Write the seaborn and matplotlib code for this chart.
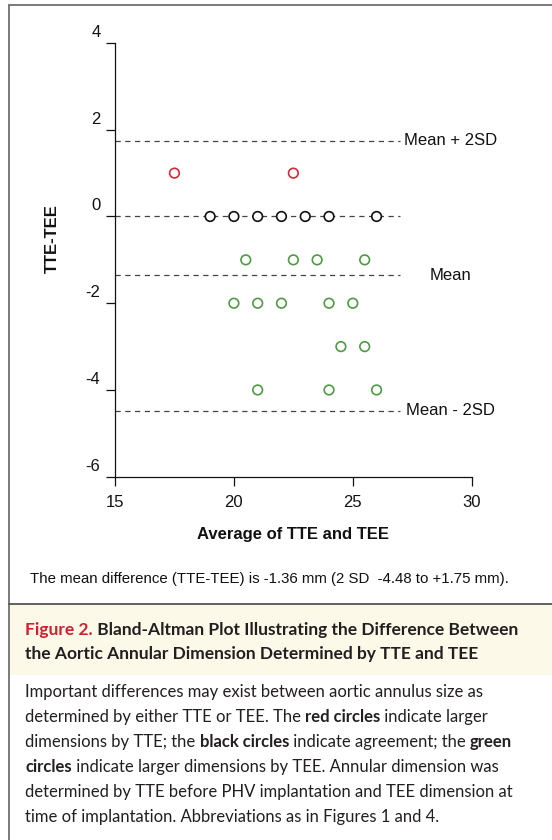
import numpy as np
import pandas as pd
import matplotlib
matplotlib.use("Agg")
import matplotlib.pyplot as plt
import seaborn as sns
from matplotlib.transforms import ScaledTranslation
from matplotlib.patches import Rectangle
from matplotlib.lines import Line2D

# ---------------- data ----------------
red_x = [17.5, 22.5]
red_y = [1, 1]
black_x = [19, 20, 21, 22, 23, 24, 26]
black_y = [0, 0, 0, 0, 0, 0, 0]
green_x = [20.5, 22.5, 23.5, 25.5, 20, 21, 22, 24, 25, 24.5, 25.5, 21, 24, 26]
green_y = [-1, -1, -1, -1, -2, -2, -2, -2, -2, -3, -3, -4, -4, -4]

mean_diff = -1.36
upper_lim = 1.75
lower_lim = -4.48
ref_lines = [upper_lim, 0.0, mean_diff, lower_lim]
ref_labels = {"Mean + 2SD": upper_lim, "Mean": mean_diff, "Mean - 2SD": lower_lim}

x_ticks = [15, 20, 25, 30]
y_ticks = [-6, -4, -2, 0, 2, 4]
x_label = "Average of TTE and TEE"
y_label = "TTE-TEE"

note = "The mean difference (TTE-TEE) is -1.36 mm (2 SD  -4.48 to +1.75 mm)."
title_lines = [
    [("Figure 2.", "bold", "#cf2030"), (" Bland-Altman Plot Illustrating the Difference Between", "bold", "#231f20")],
    [("the Aortic Annular Dimension Determined by TTE and TEE", "bold", "#231f20")],
]
body_lines = [
    [("Important differences may exist between aortic annulus size as", "normal")],
    [("determined by either TTE or TEE. The ", "normal"), ("red circles", "bold"), (" indicate larger", "normal")],
    [("dimensions by TTE; the ", "normal"), ("black circles", "bold"), (" indicate agreement; the ", "normal"), ("green", "bold")],
    [("circles", "bold"), (" indicate larger dimensions by TEE. Annular dimension was", "normal")],
    [("determined by TTE before PHV implantation and TEE dimension at", "normal")],
    [("time of implantation. Abbreviations as in Figures 1 and 4.", "normal")],
]

df = pd.DataFrame({
    "avg": red_x + black_x + green_x,
    "diff": red_y + black_y + green_y,
    "group": ["red"] * len(red_x) + ["black"] * len(black_x) + ["green"] * len(green_x),
})
palette = {"red": "#d42a3c", "black": "#111111", "green": "#4f9a45"}

# ---------------- figure ----------------
sns.set_theme(style="white")
plt.rcParams["font.family"] = ["Liberation Sans", "DejaVu Sans"]

W, H = 552, 840
fig = plt.figure(figsize=(W / 100, H / 100), dpi=100)
fig.patch.set_facecolor("white")

ax_left, ax_right = 115, 471.7
ax_top, ax_bottom = 43, 476.7
ax = fig.add_axes([ax_left / W, 1 - ax_bottom / H, (ax_right - ax_left) / W, (ax_bottom - ax_top) / H])
ax.set_facecolor("none")

for v in ref_lines:
    ax.plot([15, 27], [v, v], color="#444444", lw=0.9, dashes=(4.2, 3.6), zorder=1)

sns.scatterplot(data=df, x="avg", y="diff", hue="group", palette=palette,
                s=48, linewidth=1.2, legend=False, ax=ax, zorder=3)
coll = ax.collections[0]
coll.set_edgecolors(coll.get_facecolors())
coll.set_facecolors("white")

ax.set_xlim(15, 30)
ax.set_ylim(-6, 4)
ax.set_xticks(x_ticks)
ax.set_yticks(y_ticks)
ax.set_xticklabels([str(t) for t in x_ticks])
ax.set_yticklabels([str(t) for t in y_ticks])
for s in ["top", "right"]:
    ax.spines[s].set_visible(False)
for s in ["left", "bottom"]:
    ax.spines[s].set_color("#111111")
    ax.spines[s].set_linewidth(0.9)
ax.tick_params(axis="both", which="major", direction="out", length=6.5, width=0.9,
               color="#111111", labelsize=12, labelcolor="#111111")
ax.tick_params(axis="x", pad=7, bottom=True)
ax.tick_params(axis="y", pad=4, left=True)
shift = ScaledTranslation(0, 0.12, fig.dpi_scale_trans)
for lab in ax.get_yticklabels():
    lab.set_transform(lab.get_transform() + shift)

ax.set_xlabel(x_label, fontsize=12, fontweight="bold", color="#111111", labelpad=12)
ax.set_ylabel(y_label, fontsize=12, fontweight="bold", color="#111111")
ax.yaxis.label.set_va("center")
ax.yaxis.set_label_coords((52 - ax_left) / (ax_right - ax_left), (ax_bottom - 239) / (ax_bottom - ax_top))

label_x = {"Mean + 2SD": 27.15, "Mean": 28.25, "Mean - 2SD": 27.24}
for txt, v in ref_labels.items():
    ax.text(label_x[txt], v, txt, fontsize=12, color="#111111", ha="left", va="center")

# ---------------- frame & caption ----------------
border = "#6f6f6f"
fig.add_artist(Line2D([9 / W, 9 / W], [0, 1 - 5 / H], color=border, lw=1.3, transform=fig.transFigure))
fig.add_artist(Line2D([9 / W, 1], [1 - 5 / H, 1 - 5 / H], color=border, lw=1.3, transform=fig.transFigure))
fig.add_artist(Rectangle((9.6 / W, 1 - 675 / H), 1, (675 - 604) / H, transform=fig.transFigure,
                         facecolor="#fcf9e9", edgecolor="none", zorder=0))
fig.add_artist(Line2D([9 / W, 1], [1 - 603.5 / H, 1 - 603.5 / H], color="#555555", lw=1.3, transform=fig.transFigure))

fig.text(30 / W, 1 - 583 / H, note, fontsize=10.8, color="#111111", ha="left", va="baseline")

renderer = fig.canvas.get_renderer()


def rich_line(x_px, y_px, parts, size, family):
    x = x_px
    for part in parts:
        txt, weight = part[0], part[1]
        color = part[2] if len(part) > 2 else "#231f20"
        t = fig.text(x / W, 1 - y_px / H, txt, fontsize=size, fontweight=weight, color=color,
                     family=family, ha="left", va="baseline")
        w, h, d = renderer.get_text_width_height_descent(txt, t.get_fontproperties(), ismath=False)
        x += w


for i, parts in enumerate(title_lines):
    rich_line(25, 635 + i * 23.5, parts, 12.5, ["Lato", "DejaVu Sans"])
for i, parts in enumerate(body_lines):
    rich_line(25, 697 + i * 25, parts, 12, ["Lato", "DejaVu Sans"])

fig.savefig("out.png", dpi=100)
